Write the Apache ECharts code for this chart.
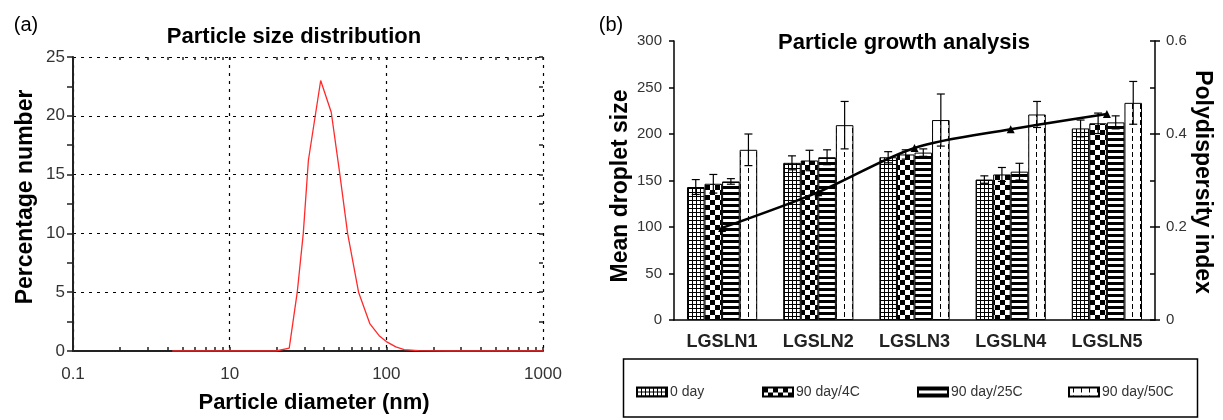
<!DOCTYPE html>
<html>
<head>
<meta charset="utf-8">
<script src="https://cdn.jsdelivr.net/npm/echarts@6/dist/echarts.min.js"></script>
<style>
  html, body { margin: 0; padding: 0; background: #fff; }
  #main { width: 1223px; height: 420px; }
</style>
</head>
<body>
<div id="main"></div>
<script>
// (a) particle size distribution
const diameters = [4.3, 10, 19.8, 24, 27, 29.5, 31.8, 38.1, 44.5, 50.4, 56.6, 66.5, 78.6, 90, 100, 115, 130, 160, 250, 1000];
const percentages = [0, 0, 0, 0.25, 5, 10, 16.2, 23, 20.3, 15.1, 10, 5, 2.3, 1.3, 0.8, 0.35, 0.12, 0.03, 0, 0];
const decadeValues = [1, 10, 100, 1000];
const decadeLabels = ["0.1", "10", "100", "1000"];
const minorTickValues = [2, 3, 4, 5, 6, 7, 8, 9, 10, 20, 30, 40, 50, 60, 70, 80, 90, 100,
  200, 300, 400, 500, 600, 700, 800, 900, 1000];

// (b) particle growth analysis
const samples = ["LGSLN1", "LGSLN2", "LGSLN3", "LGSLN4", "LGSLN5"];
const groups = ["0 day", "90 day/4C", "90 day/25C", "90 day/50C"];
const day0 = [143, 169, 175, 151, 206];
const day0Err = [8, 7.5, 6, 4, 9];
const day4C = [146.5, 171.5, 178, 156.5, 211.5];
const day4CErr = [10, 11, 5, 7.5, 11];
const day25C = [149, 175, 180, 159.5, 212.5];
const day25CErr = [3, 8, 4, 9, 7];
const day50C = [183, 209.5, 215, 221, 233.5];
const day50CErr = [17, 25.5, 28, 14, 23];
const pdi = [0.198, 0.275, 0.37, 0.41, 0.443];

const barValues = [day0, day4C, day25C, day50C];
const barErrors = [day0Err, day4CErr, day25CErr, day50CErr];
const catGap = 0.27;

const font = '"Liberation Sans", Arial, sans-serif';
const dotted = { color: "#000", width: 1.2, type: [3, 5] };
const axisDark = { color: "#222", width: 2 };
const axisBlack = { color: "#000", width: 1.5 };

// hatch fills like the old excel patterns
function pattern(w, h, draw) {
  const c = document.createElement("canvas");
  c.width = w;
  c.height = h;
  const ctx = c.getContext("2d");
  ctx.fillStyle = "#fff";
  ctx.fillRect(0, 0, w, h);
  ctx.fillStyle = "#000";
  draw(ctx);
  return { image: c, repeat: "repeat" };
}
const fills = [
  pattern(4, 4, (ctx) => { ctx.fillRect(0, 0, 4, 1); ctx.fillRect(0, 0, 1, 4); }),
  pattern(10, 10, (ctx) => { ctx.fillRect(0, 0, 5, 5); ctx.fillRect(5, 5, 5, 5); }),
  pattern(4, 6, (ctx) => { ctx.fillRect(0, 0, 4, 3); }),
  pattern(8, 8, (ctx) => { ctx.fillRect(4, 0, 1, 5); }),
];

const errorData = [];
barValues.forEach((vals, k) => {
  vals.forEach((v, i) => {
    errorData.push([i, v - barErrors[k][i], v + barErrors[k][i], k]);
  });
});

const chart = echarts.init(document.getElementById("main"), null, { renderer: "canvas" });

const legendLeft = [636, 762, 917, 1068];

const option = {
  animation: false,
  textStyle: { fontFamily: font },
  grid: [
    { left: 73, right: 680, top: 57, bottom: 69 },
    { left: 674, right: 68, top: 41, bottom: 100 },
  ],
  xAxis: [
    {
      type: "log",
      logBase: 10,
      gridIndex: 0,
      min: 1,
      max: 1000,
      axisLine: { lineStyle: axisDark },
      axisTick: { show: false },
      axisLabel: {
        margin: 15,
        fontSize: 17,
        color: "#333",
        formatter: (v) => decadeLabels[decadeValues.indexOf(Math.round(v))],
      },
      splitLine: { show: true, lineStyle: dotted },
    },
    {
      type: "log",
      logBase: 10,
      gridIndex: 0,
      min: 1,
      max: 1000,
      axisLine: { show: false },
      axisLabel: { show: false },
      splitLine: { show: false },
      axisTick: { show: true, customValues: minorTickValues, length: 4, lineStyle: { color: "#222", width: 1.5 } },
    },
    {
      type: "log",
      logBase: 10,
      gridIndex: 0,
      min: 1,
      max: 1000,
      axisLine: { show: false },
      axisLabel: { show: false },
      splitLine: { show: false },
      axisTick: { show: true, inside: true, customValues: minorTickValues, length: 3, lineStyle: { color: "#222", width: 1.5 } },
    },
    {
      type: "category",
      gridIndex: 1,
      data: samples,
      axisLine: { lineStyle: axisBlack },
      axisTick: { length: 6, lineStyle: axisBlack },
      axisLabel: { fontSize: 18, fontWeight: "bold", color: "#222", margin: 13 },
    },
    {
      type: "category",
      gridIndex: 1,
      data: samples,
      axisLine: { show: false },
      axisTick: { inside: true, length: 4, lineStyle: axisBlack },
      axisLabel: { show: false },
    },
  ],
  yAxis: [
    {
      type: "value",
      gridIndex: 0,
      min: 0,
      max: 25,
      interval: 5,
      axisLine: { show: true, lineStyle: axisDark },
      axisTick: { show: true, length: 6, lineStyle: { color: "#222", width: 1.5 } },
      minorTick: { show: true, splitNumber: 2, length: 6, lineStyle: { color: "#222", width: 1.5 } },
      axisLabel: { fontSize: 17, color: "#333", margin: 8 },
      splitLine: { show: true, lineStyle: dotted },
    },
    {
      type: "value",
      gridIndex: 0,
      min: 0,
      max: 25,
      interval: 5,
      axisLine: { show: false },
      axisTick: { show: true, inside: true, length: 4, lineStyle: { color: "#222", width: 1.5 } },
      minorTick: { show: true, splitNumber: 2, length: 4, lineStyle: { color: "#222", width: 1.5 } },
      axisLabel: { show: false },
      splitLine: { show: false },
    },
    {
      type: "value",
      gridIndex: 1,
      min: 0,
      max: 300,
      interval: 50,
      axisLine: { show: true, lineStyle: axisBlack },
      axisTick: { show: true, length: 5, lineStyle: axisBlack },
      axisLabel: { fontSize: 15, color: "#333", margin: 12 },
      splitLine: { show: false },
    },
    {
      type: "value",
      gridIndex: 1,
      min: 0,
      max: 300,
      interval: 50,
      axisLine: { show: false },
      axisTick: { show: true, inside: true, length: 5, lineStyle: axisBlack },
      axisLabel: { show: false },
      splitLine: { show: false },
    },
    {
      type: "value",
      gridIndex: 1,
      position: "right",
      min: 0,
      max: 0.6,
      interval: 0.2,
      axisLine: { show: true, lineStyle: axisBlack },
      axisTick: { show: true, length: 5, lineStyle: axisBlack },
      axisLabel: { fontSize: 15, color: "#333", margin: 11 },
      splitLine: { show: false },
    },
    {
      type: "value",
      gridIndex: 1,
      position: "right",
      min: 0,
      max: 0.6,
      interval: 0.2,
      axisLine: { show: false },
      axisTick: { show: true, inside: true, length: 5, lineStyle: axisBlack },
      axisLabel: { show: false },
      splitLine: { show: false },
    },
  ],
  legend: groups.map((name, k) => ({
    data: [name],
    left: legendLeft[k],
    top: 385,
    padding: 0,
    icon: "rect",
    itemWidth: 30,
    itemHeight: 9,
    textStyle: { fontSize: 14, color: "#333", fontFamily: font, padding: [0, 0, 0, -2] },
  })),
  series: [
    {
      type: "line",
      xAxisIndex: 0,
      yAxisIndex: 0,
      data: diameters.map((d, i) => [d, percentages[i]]),
      showSymbol: false,
      lineStyle: { color: "#ff2a2a", width: 1.3 },
      z: 4,
    },
    ...groups.map((name, k) => ({
      name: name,
      type: "bar",
      xAxisIndex: 3,
      yAxisIndex: 2,
      data: barValues[k],
      barGap: "0%",
      barCategoryGap: catGap * 100 + "%",
      itemStyle: { color: fills[k], borderColor: "#000", borderWidth: 1 },
    })),
    {
      type: "custom",
      xAxisIndex: 3,
      yAxisIndex: 2,
      data: errorData,
      encode: { x: 0, y: [1, 2] },
      z: 3,
      renderItem: function (params, api) {
        const cat = api.value(0);
        const k = api.value(3);
        const band = api.size([1, 0])[0];
        const barW = (band * (1 - catGap)) / 4;
        const x = api.coord([cat, 0])[0] + (k - 1.5) * barW;
        const yLo = api.coord([cat, api.value(1)])[1];
        const yHi = api.coord([cat, api.value(2)])[1];
        const style = { stroke: "#000", lineWidth: 1.2 };
        return {
          type: "group",
          children: [
            { type: "line", shape: { x1: x, y1: yLo, x2: x, y2: yHi }, style: style },
            { type: "line", shape: { x1: x - 4, y1: yHi, x2: x + 4, y2: yHi }, style: style },
            { type: "line", shape: { x1: x - 4, y1: yLo, x2: x + 4, y2: yLo }, style: style },
          ],
        };
      },
    },
    {
      type: "line",
      xAxisIndex: 3,
      yAxisIndex: 4,
      data: pdi,
      smooth: 0.3,
      symbol: "triangle",
      symbolSize: 8,
      itemStyle: { color: "#000" },
      lineStyle: { color: "#000", width: 2.5 },
      z: 5,
    },
  ],
  graphic: [
    { type: "text", x: 26, y: 25, style: { text: "(a)", font: "20px " + font, fill: "#000", align: "center", verticalAlign: "middle" } },
    { type: "text", x: 611, y: 25, style: { text: "(b)", font: "20px " + font, fill: "#000", align: "center", verticalAlign: "middle" } },
    { type: "text", x: 294, y: 37, style: { text: "Particle size distribution", font: "bold 22px " + font, fill: "#000", align: "center", verticalAlign: "middle" } },
    { type: "text", x: 904, y: 43, style: { text: "Particle growth analysis", font: "bold 22px " + font, fill: "#000", align: "center", verticalAlign: "middle" } },
    { type: "text", x: 314, y: 403, style: { text: "Particle diameter (nm)", font: "bold 22px " + font, fill: "#000", align: "center", verticalAlign: "middle" } },
    { type: "text", x: 26, y: 197, rotation: Math.PI / 2, style: { text: "Percentage number", font: "bold 23px " + font, fill: "#000", align: "center", verticalAlign: "middle" } },
    { type: "text", x: 621, y: 186, rotation: Math.PI / 2, style: { text: "Mean droplet size", font: "bold 23px " + font, fill: "#000", align: "center", verticalAlign: "middle" } },
    { type: "text", x: 1202, y: 182, rotation: -Math.PI / 2, style: { text: "Polydispersity index", font: "bold 23px " + font, fill: "#000", align: "center", verticalAlign: "middle" } },
    { type: "rect", shape: { x: 623.5, y: 359, width: 574, height: 58 }, style: { fill: "none", stroke: "#000", lineWidth: 1.5 } },
  ],
};

chart.setOption(option);
</script>
</body>
</html>
